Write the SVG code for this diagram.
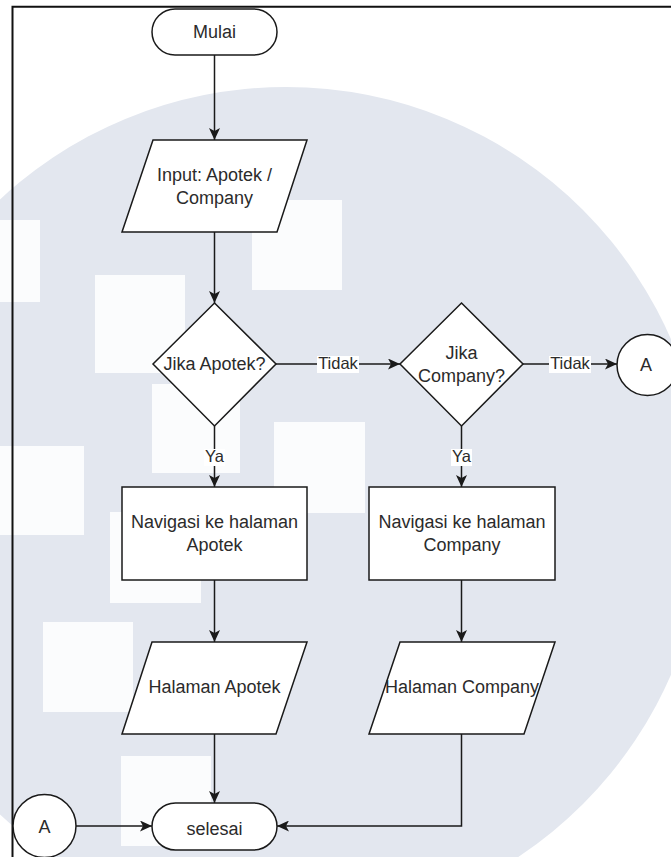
<svg xmlns="http://www.w3.org/2000/svg" width="671" height="857" viewBox="0 0 671 857">
  <defs>
    <style>
      .shape { fill: #ffffff; stroke: #1a1a1a; stroke-width: 1.5; }
      .edge { fill: none; stroke: #1a1a1a; stroke-width: 1.5; }
      .txt { font-family: "Liberation Sans", Arial, sans-serif; font-size: 18px; fill: #2b2b2b; text-anchor: middle; }
      .lbl { font-family: "Liberation Sans", Arial, sans-serif; font-size: 16.5px; fill: #2b2b2b; text-anchor: middle; }
      .lblbg { fill: #ffffff; }
      .wm { fill: #e3e7ef; }
      .sq { fill: #fbfcfd; }
      .frame { fill: none; stroke: #111111; stroke-width: 2; }
    </style>
    <marker id="arrow" viewBox="0 0 12 11" refX="12" refY="5.5" markerWidth="12" markerHeight="11" markerUnits="userSpaceOnUse" orient="auto">
      <path d="M0,0 L12,5.5 L0,11 L3,5.5 Z" fill="#1a1a1a"/>
    </marker>
  </defs>

  <rect x="0" y="0" width="671" height="857" fill="#ffffff"/>

  <!-- background watermark: large disc with pale squares -->
  <g id="watermark">
    <circle class="wm" cx="286" cy="507" r="420"/>
    <rect class="sq" x="0" y="220" width="40" height="82"/>
    <rect class="sq" x="95" y="275" width="90" height="98"/>
    <rect class="sq" x="252" y="200" width="90" height="90"/>
    <rect class="sq" x="152" y="384" width="88" height="89"/>
    <rect class="sq" x="274" y="422" width="91" height="91"/>
    <rect class="sq" x="0" y="446" width="84" height="89"/>
    <rect class="sq" x="110" y="512" width="91" height="91"/>
    <rect class="sq" x="43" y="622" width="90" height="90"/>
    <rect class="sq" x="121" y="756" width="90" height="90"/>
  </g>

  <!-- page frame -->
  <path class="frame" d="M12.5,857 V6.8 H671"/>

  <!-- connectors -->
  <g id="connectors">
    <line class="edge" x1="214.5" y1="55" x2="214.5" y2="140" marker-end="url(#arrow)"/>
    <line class="edge" x1="214.5" y1="232" x2="214.5" y2="303" marker-end="url(#arrow)"/>
    <line class="edge" x1="276" y1="364" x2="400" y2="364" marker-end="url(#arrow)"/>
    <line class="edge" x1="523" y1="364" x2="617" y2="364" marker-end="url(#arrow)"/>
    <line class="edge" x1="214.5" y1="426" x2="214.5" y2="487" marker-end="url(#arrow)"/>
    <line class="edge" x1="461.5" y1="426" x2="461.5" y2="487" marker-end="url(#arrow)"/>
    <line class="edge" x1="214.5" y1="580" x2="214.5" y2="642" marker-end="url(#arrow)"/>
    <line class="edge" x1="461.5" y1="580" x2="461.5" y2="642" marker-end="url(#arrow)"/>
    <line class="edge" x1="214.5" y1="734" x2="214.5" y2="803" marker-end="url(#arrow)"/>
    <path class="edge" d="M461.5,734 V826 H277" marker-end="url(#arrow)"/>
    <line class="edge" x1="76" y1="826" x2="152" y2="826" marker-end="url(#arrow)"/>

    <!-- edge labels -->
    <rect class="lblbg" x="317" y="356" width="42" height="17"/>
    <text class="lbl" x="338" y="369">Tidak</text>
    <rect class="lblbg" x="549" y="356" width="42" height="17"/>
    <text class="lbl" x="570" y="369">Tidak</text>
    <rect class="lblbg" x="204" y="449" width="21" height="17"/>
    <text class="lbl" x="214.5" y="462">Ya</text>
    <rect class="lblbg" x="451" y="449" width="21" height="17"/>
    <text class="lbl" x="461.5" y="462">Ya</text>
  </g>

  <g id="mulai">
    <rect class="shape" x="152" y="9" width="125" height="46" rx="23" ry="23"/>
    <text class="txt" x="214.5" y="38">Mulai</text>
  </g>

  <g id="input">
    <polygon class="shape" points="153,140 307,140 277,232 122,232"/>
    <text class="txt" x="214.5" y="181">Input: Apotek /</text>
    <text class="txt" x="214.5" y="204">Company</text>
  </g>

  <g id="jika-apotek">
    <polygon class="shape" points="214.5,303 276,364 214.5,426 153,364"/>
    <text class="txt" x="214.5" y="370">Jika Apotek?</text>
  </g>

  <g id="jika-company">
    <polygon class="shape" points="461.5,303 523,364 461.5,426 400,364"/>
    <text class="txt" x="461.5" y="358.5">Jika</text>
    <text class="txt" x="461.5" y="382">Company?</text>
  </g>

  <g id="konektor-a-kanan">
    <circle class="shape" cx="647.5" cy="365" r="30.5"/>
    <text class="txt" x="646" y="370.5">A</text>
  </g>

  <g id="navigasi-apotek">
    <rect class="shape" x="122" y="487" width="185" height="93"/>
    <text class="txt" x="214.5" y="528">Navigasi ke halaman</text>
    <text class="txt" x="214.5" y="551">Apotek</text>
  </g>

  <g id="navigasi-company">
    <rect class="shape" x="369" y="487" width="186" height="93"/>
    <text class="txt" x="462" y="528">Navigasi ke halaman</text>
    <text class="txt" x="462" y="551">Company</text>
  </g>

  <g id="halaman-apotek">
    <polygon class="shape" points="152,642 307,642 276,734 122,734"/>
    <text class="txt" x="214.5" y="693">Halaman Apotek</text>
  </g>

  <g id="halaman-company">
    <polygon class="shape" points="400,642 555,642 524,734 369,734"/>
    <text class="txt" x="462" y="693">Halaman Company</text>
  </g>

  <g id="konektor-a-kiri">
    <circle class="shape" cx="44.5" cy="826" r="31.5"/>
    <text class="txt" x="44.5" y="832.5">A</text>
  </g>

  <g id="selesai">
    <rect class="shape" x="152" y="803" width="125" height="47" rx="23.5" ry="23.5"/>
    <text class="txt" x="214.5" y="835">selesai</text>
  </g>
</svg>
